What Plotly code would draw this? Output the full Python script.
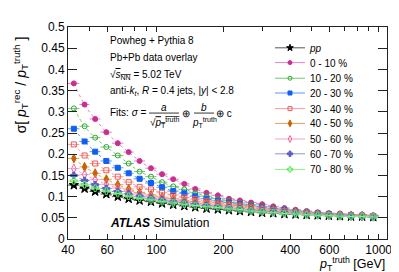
import plotly.graph_objects as go

# ---------------- data ----------------
bin_edges = [40, 45, 50, 56, 63, 71, 79, 89, 100, 112, 126, 141, 158, 178, 200, 224,
             251, 282, 316, 355, 398, 447, 501, 562, 631, 708, 794, 891, 1000]

pp = [0.127, 0.119, 0.112, 0.106, 0.100, 0.095, 0.091, 0.088, 0.084, 0.081, 0.078, 0.075, 0.072, 0.070,
      0.068, 0.066, 0.064, 0.062, 0.061, 0.059, 0.058, 0.057, 0.056, 0.055, 0.054, 0.053, 0.053, 0.052]
c0_10 = [0.367, 0.317, 0.283, 0.252, 0.226, 0.205, 0.184, 0.167, 0.153, 0.141, 0.130, 0.118, 0.109, 0.103,
         0.095, 0.091, 0.086, 0.082, 0.077, 0.073, 0.069, 0.066, 0.063, 0.061, 0.060, 0.058, 0.057, 0.056]
c10_20 = [0.308, 0.266, 0.239, 0.217, 0.197, 0.178, 0.159, 0.147, 0.134, 0.124, 0.117, 0.109, 0.101, 0.095,
          0.090, 0.085, 0.081, 0.077, 0.073, 0.070, 0.067, 0.064, 0.062, 0.060, 0.058, 0.057, 0.056, 0.055]
c20_30 = [0.260, 0.230, 0.206, 0.184, 0.168, 0.155, 0.142, 0.132, 0.122, 0.113, 0.108, 0.101, 0.095, 0.090,
          0.086, 0.082, 0.078, 0.075, 0.071, 0.068, 0.065, 0.063, 0.061, 0.059, 0.057, 0.056, 0.055, 0.054]
c30_40 = [0.223, 0.197, 0.178, 0.162, 0.147, 0.134, 0.123, 0.117, 0.109, 0.104, 0.098, 0.094, 0.090, 0.086,
          0.082, 0.079, 0.076, 0.072, 0.069, 0.066, 0.064, 0.062, 0.060, 0.058, 0.057, 0.056, 0.055, 0.054]
c40_50 = [0.190, 0.170, 0.155, 0.141, 0.128, 0.118, 0.110, 0.104, 0.099, 0.095, 0.091, 0.088, 0.085, 0.082,
          0.079, 0.076, 0.073, 0.070, 0.067, 0.064, 0.062, 0.060, 0.058, 0.057, 0.056, 0.055, 0.054, 0.053]
c50_60 = [0.166, 0.152, 0.140, 0.129, 0.120, 0.112, 0.106, 0.100, 0.096, 0.092, 0.088, 0.085, 0.082, 0.079,
          0.076, 0.073, 0.070, 0.068, 0.065, 0.063, 0.061, 0.059, 0.057, 0.056, 0.055, 0.054, 0.053, 0.053]
c60_70 = [0.150, 0.138, 0.128, 0.119, 0.112, 0.106, 0.101, 0.096, 0.092, 0.088, 0.085, 0.082, 0.079, 0.076,
          0.073, 0.071, 0.068, 0.066, 0.064, 0.062, 0.060, 0.058, 0.057, 0.056, 0.055, 0.054, 0.053, 0.052]
c70_80 = [0.137, 0.128, 0.120, 0.113, 0.107, 0.101, 0.096, 0.092, 0.088, 0.085, 0.082, 0.079, 0.076, 0.074,
          0.071, 0.069, 0.066, 0.064, 0.062, 0.060, 0.059, 0.057, 0.056, 0.055, 0.054, 0.053, 0.053, 0.052]

series_names = ["<i>pp</i>", "0 - 10 %", "10 - 20 %", "20 - 30 %", "30 - 40 %",
                "40 - 50 %", "50 - 60 %", "60 - 70 %", "70 - 80 %"]
series_values = [pp, c0_10, c10_20, c20_30, c30_40, c40_50, c50_60, c60_70, c70_80]

x_tickvals = [40, 60, 100, 200, 400, 600, 1000]
x_minorvals = [50, 70, 80, 90, 300, 500, 700, 800, 900]
y_tickvals = [0, 0.05, 0.1, 0.15, 0.2, 0.25, 0.3, 0.35, 0.4, 0.45, 0.5]
y_ticktext = ["0", "0.05", "0.1", "0.15", "0.2", "0.25", "0.3", "0.35", "0.4", "0.45", "0.5"]

# ---------------- styles ----------------
marker_colors = ["#000000", "#c8308f", "#2fa62f", "#1060f0", "#f05a5a",
                 "#c86400", "#f06aa0", "#5a5ac8", "#5ae85a"]
line_colors = ["#555555", "#e880c8", "#70c870", "#5a96f5", "#f59a9a",
               "#e0a060", "#f7a0c4", "#9090dc", "#90f090"]
symbols = ["star", "circle", "circle-open", "square", "square-open",
           "diamond-tall", "diamond-tall-open", "cross", "cross-open"]
sizes = [7, 5, 5, 5, 5, 6.5, 6.5, 5.5, 5.5]
legend_sizes = [5, 4, 4, 4, 4, 5, 5, 4.5, 4.5]

FONT = "Liberation Sans, Arial, Helvetica, sans-serif"

centers = [(lo + hi) / 2 for lo, hi in zip(bin_edges[:-1], bin_edges[1:])]
err_plus = [hi - c for hi, c in zip(bin_edges[1:], centers)]
err_minus = [c - lo for lo, c in zip(bin_edges[:-1], centers)]

W, H = 399, 272
L, R, T, B = 60, 20, 13, 41
PW, PH = W - L - R, H - T - B


def px(xpix):
    return (xpix - L) / PW


def py(ypix):
    return (H - B - ypix) / PH


fig = go.Figure()

for i in range(len(series_values)):
    fig.add_trace(go.Scatter(
        x=centers, y=series_values[i], mode="lines+markers",
        line=dict(color=line_colors[i], width=1, dash="dot", shape="spline"),
        marker=dict(symbol=symbols[i], color=marker_colors[i], size=sizes[i],
                    line=dict(color=marker_colors[i], width=1)),
        error_x=dict(type="data", symmetric=False, array=err_plus, arrayminus=err_minus,
                     color=line_colors[i], thickness=1, width=0),
        showlegend=False, hoverinfo="skip"))

# legend entries, split across two interleaved legends
for i, name in enumerate(series_names):
    fig.add_trace(go.Scatter(
        x=[None], y=[None], mode="lines+markers", name=name,
        legend="legend" if i % 2 == 0 else "legend2",
        legendgroup="g%d" % i,
        line=dict(color=line_colors[i], width=1),
        marker=dict(symbol=symbols[i], color=marker_colors[i], size=legend_sizes[i],
                    line=dict(color=marker_colors[i], width=1)),
        hoverinfo="skip"))

leg_common = dict(xanchor="left", yanchor="top", traceorder="grouped", tracegroupgap=11.4,
                  font=dict(family=FONT, size=10, color="black"),
                  bgcolor="rgba(0,0,0,0)", borderwidth=0)

axis_common = dict(showgrid=False, zeroline=False, showline=True, linecolor="#222222",
                   linewidth=1, mirror="ticks", ticks="inside", tickcolor="#222222",
                   tickfont=dict(family=FONT, size=12, color="black"))

ann = []


def text(x, y, s, size=10, xanchor="left", yanchor="middle", **kw):
    ann.append(dict(x=px(x), y=py(y), xref="paper", yref="paper", text=s, showarrow=False,
                    xanchor=xanchor, yanchor=yanchor, font=dict(family=FONT, size=size, color="black"),
                    **kw))


text(100, 26.7, "Powheg + Pythia 8")
text(100, 44.3, "Pb+Pb data overlay")
text(100, 62, "\u221a<span style='text-decoration:overline'><i>s</i><sub>NN</sub></span> = 5.02 TeV")
text(100, 79, "anti-<i>k</i><sub><i>t</i></sub>, <i>R</i> = 0.4 jets, |<i>y</i>| &lt; 2.8")
text(100, 101, "Fits: <i>\u03c3</i> =")
text(156, 95.5, "<i>a</i>", xanchor="center")
text(156, 111, "\u221a<span style='text-decoration:overline'><i>p</i><sub>T</sub><sup>truth</sup></span>",
     xanchor="center")
text(178, 101.5, "\u2295", xanchor="center")
text(196, 95.5, "<i>b</i>", xanchor="center")
text(196, 111, "<i>p</i><sub>T</sub><sup>truth</sup>", xanchor="center")
text(206, 101.5, "\u2295 c")
text(100, 215, "<b><i>ATLAS</i></b> Simulation", size=12)
text(379, 257, "<i>p</i><sub>T</sub><sup>truth</sup> [GeV]", size=12.5, xanchor="right")
ann.append(dict(x=px(13), y=py(73), xref="paper", yref="paper",
                text="\u03c3[ <i>p</i><sub>T</sub><sup>rec</sup> / <i>p</i><sub>T</sub><sup>truth</sup> ]",
                showarrow=False, textangle=-90, xanchor="center", yanchor="middle",
                font=dict(family=FONT, size=14, color="black")))

shapes = [
    dict(type="line", xref="paper", yref="paper", x0=px(141), x1=px(171), y0=py(101.5), y1=py(101.5),
         line=dict(color="black", width=0.8)),
    dict(type="line", xref="paper", yref="paper", x0=px(186), x1=px(206), y0=py(101.5), y1=py(101.5),
         line=dict(color="black", width=0.8)),
]

fig.update_layout(
    width=W, height=H, margin=dict(l=L, r=R, t=T, b=B),
    paper_bgcolor="white", plot_bgcolor="white",
    font=dict(family=FONT, color="black"),
    xaxis=dict(type="log", range=[1.60206, 3.0374], tickvals=x_tickvals,
               ticktext=[str(v) for v in x_tickvals], ticklen=5,
               minor=dict(tickvals=x_minorvals, ticklen=4, ticks="inside", tickcolor="#222222",
                          showgrid=False),
               **axis_common),
    yaxis=dict(range=[0, 0.5], tickvals=y_tickvals, ticktext=y_ticktext, ticklen=9, **axis_common),
    legend=dict(x=px(262), y=py(19.5), **leg_common),
    legend2=dict(x=px(262), y=py(34.7), **leg_common),
    annotations=ann, shapes=shapes,
)

fig.write_html("out.html")
